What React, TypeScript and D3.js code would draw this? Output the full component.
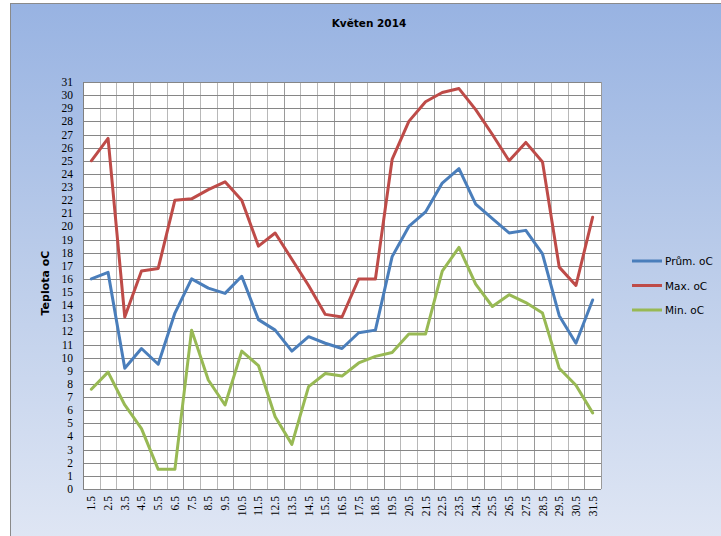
import React from "react";
import * as d3 from "d3";

const days = ["1.5", "2.5", "3.5", "4.5", "5.5", "6.5", "7.5", "8.5", "9.5", "10.5", "11.5", "12.5", "13.5", "14.5", "15.5", "16.5", "17.5", "18.5", "19.5", "20.5", "21.5", "22.5", "23.5", "24.5", "25.5", "26.5", "27.5", "28.5", "29.5", "30.5", "31.5"];

const prumer = [16.0, 16.5, 9.2, 10.7, 9.5, 13.4, 16.0, 15.3, 14.9, 16.2, 12.9, 12.1, 10.5, 11.6, 11.1, 10.7, 11.9, 12.1, 17.7, 20.0, 21.1, 23.3, 24.4, 21.7, 20.6, 19.5, 19.7, 17.9, 13.2, 11.1, 14.4];
const maxima = [25.0, 26.7, 13.1, 16.6, 16.8, 22.0, 22.1, 22.8, 23.4, 22.0, 18.5, 19.5, 17.5, 15.5, 13.3, 13.1, 16.0, 16.0, 25.1, 28.0, 29.5, 30.2, 30.5, 28.9, 27.0, 25.0, 26.4, 24.9, 16.9, 15.5, 20.7];
const minima = [7.6, 8.9, 6.4, 4.6, 1.5, 1.5, 12.1, 8.3, 6.4, 10.5, 9.4, 5.5, 3.4, 7.8, 8.8, 8.6, 9.6, 10.1, 10.4, 11.8, 11.8, 16.6, 18.4, 15.6, 13.9, 14.8, 14.2, 13.4, 9.2, 7.9, 5.8];

const yTicks = d3.range(0, 32);

const series = [
  { name: "Prům. oC", values: prumer, color: "#4a7ebb" },
  { name: "Max. oC", values: maxima, color: "#be4b48" },
  { name: "Min. oC", values: minima, color: "#98b954" },
];

const W = 721;
const H = 536;
const plot = { left: 83, right: 601, top: 82, bottom: 489 };

export default function App() {
  const x = d3.scaleBand().domain(days).range([plot.left, plot.right]);
  const y = d3.scaleLinear().domain([0, 31]).range([plot.bottom, plot.top]);
  const cx = (d: string) => (x(d) as number) + x.bandwidth() / 2;

  const line = d3
    .line<number>()
    .x((_, i) => cx(days[i]))
    .y((v) => y(v));

  const tickFont = "'Liberation Serif', serif";
  const labelFont = "'DejaVu Sans', sans-serif";

  return (
    <svg width={W} height={H} style={{ position: "absolute", left: 0, top: 0 }}>
      <defs>
        <linearGradient id="bg" x1="0" y1="0" x2="0" y2="1">
          <stop offset="0" stopColor="#98b3e2" />
          <stop offset="0.5" stopColor="#bccdea" />
          <stop offset="1" stopColor="#dfe6f4" />
        </linearGradient>
      </defs>
      <rect x={0} y={0} width={W} height={H} fill="#ffffff" />
      <rect x={10.5} y={3.5} width={W} height={H} fill="url(#bg)" stroke="#8a8a8a" strokeWidth={1} />

      <text x={369} y={27} textAnchor="middle" fontFamily={labelFont} fontWeight="bold" fontSize={10.5}>
        Květen 2014
      </text>

      <rect x={plot.left} y={plot.top} width={plot.right - plot.left} height={plot.bottom - plot.top} fill="#ffffff" />

      {/* vertical grid */}
      {days.map((d, i) => (
        <line key={"v" + d} x1={Math.round(x(d) as number) + 0.5} x2={Math.round(x(d) as number) + 0.5}
          y1={plot.top} y2={plot.bottom} stroke={i % 3 === 0 ? "#9a9a9a" : "#b8b8b8"} strokeWidth={1} />
      ))}
      <line x1={plot.right + 0.5} x2={plot.right + 0.5} y1={plot.top} y2={plot.bottom} stroke="#9a9a9a" />

      {/* horizontal grid */}
      {yTicks.map((t) => (
        <line key={"h" + t} x1={plot.left} x2={plot.right} y1={Math.round(y(t)) + 0.5} y2={Math.round(y(t)) + 0.5}
          stroke="#868686" strokeWidth={1} />
      ))}
      <line x1={plot.left + 0.5} x2={plot.left + 0.5} y1={plot.top} y2={plot.bottom} stroke="#808080" />

      {/* y tick labels */}
      {yTicks.map((t) => (
        <text key={"yl" + t} x={73} y={y(t) + 4} textAnchor="end" fontFamily={tickFont} fontSize={11.5} fill="#000">
          {t}
        </text>
      ))}

      {/* x tick labels */}
      {days.map((d) => (
        <text key={"xl" + d} transform={`translate(${cx(d) + 4},${plot.bottom + 7}) rotate(-90)`}
          textAnchor="end" fontFamily={tickFont} fontSize={11.5} fill="#000">
          {d}
        </text>
      ))}

      <text transform={`translate(49,283) rotate(-90)`} textAnchor="middle" fontFamily={labelFont}
        fontWeight="bold" fontSize={11}>
        Teplota oC
      </text>

      {series.map((s) => (
        <path key={s.name} d={line(s.values) || ""} fill="none" stroke={s.color} strokeWidth={3}
          strokeLinejoin="round" strokeLinecap="round" />
      ))}

      {/* legend */}
      {series.map((s, i) => (
        <g key={"lg" + s.name} transform={`translate(632,${261 + i * 24.5})`}>
          <line x1={0} x2={30} y1={0} y2={0} stroke={s.color} strokeWidth={3} />
          <text x={33} y={4} fontFamily={labelFont} fontSize={10.5}>
            {s.name}
          </text>
        </g>
      ))}
    </svg>
  );
}
